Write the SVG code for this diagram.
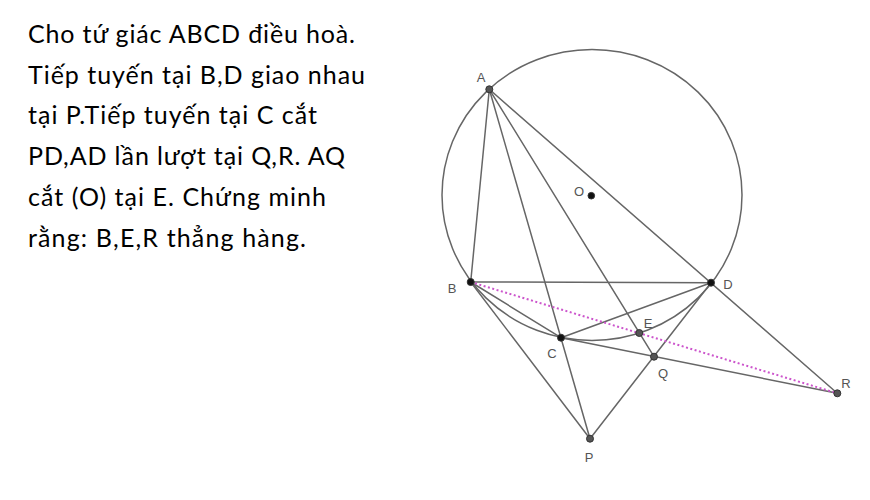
<svg xmlns="http://www.w3.org/2000/svg" width="870" height="500" viewBox="0 0 870 500">
<style>
.t{font-family:Lato,"Open Sans","Liberation Sans",sans-serif;font-size:25px;fill:#000}
.ln{stroke:#666;stroke-width:1.5;fill:none;stroke-linecap:round}
.dot{stroke:#cc55cc;stroke-width:2;stroke-dasharray:2 2.5;fill:none}
.lb{font-family:"Liberation Sans",Arial,sans-serif;font-size:13px;fill:#555;text-anchor:middle}
.pk{fill:#111;stroke:#333;stroke-width:1}
.pg{fill:#555;stroke:#333;stroke-width:1}
</style>
<rect width="870" height="500" fill="#fff"/>
<g id="problem-text">
<text class="t" x="28" y="43" textLength="327" lengthAdjust="spacing">Cho tứ giác ABCD điều hoà.</text>
<text class="t" x="28" y="84" textLength="337" lengthAdjust="spacing">Tiếp tuyến tại B,D giao nhau</text>
<text class="t" x="28" y="124" textLength="289" lengthAdjust="spacing">tại P.Tiếp tuyến tại C cắt</text>
<text class="t" x="28" y="165" textLength="317" lengthAdjust="spacing">PD,AD lần lượt tại Q,R. AQ</text>
<text class="t" x="28" y="206" textLength="298" lengthAdjust="spacing">cắt (O) tại E. Chứng minh</text>
<text class="t" x="28" y="247" textLength="278" lengthAdjust="spacing">rằng: B,E,R thẳng hàng.</text>
</g>
<g id="circle-O">
<ellipse class="ln" cx="592" cy="195" rx="150" ry="145.5"/>
</g>
<g id="connectors">
<line class="ln" x1="489.3" y1="89.3" x2="470.7" y2="282"/>
<line class="ln" x1="489.3" y1="89.3" x2="590" y2="438.7"/>
<line class="ln" x1="489.3" y1="89.3" x2="654" y2="356.7"/>
<line class="ln" x1="489.3" y1="89.3" x2="837.3" y2="393.3"/>
<line class="ln" x1="470.7" y1="282" x2="711" y2="282.7"/>
<line class="ln" x1="470.7" y1="282" x2="561" y2="337.7"/>
<line class="ln" x1="561" y1="337.7" x2="711" y2="282.7"/>
<line class="ln" x1="470.7" y1="282" x2="590" y2="438.7"/>
<line class="ln" x1="711" y1="282.7" x2="590" y2="438.7"/>
<line class="ln" x1="561" y1="337.7" x2="837.3" y2="393.3"/>
<line class="dot" x1="470.7" y1="282" x2="837.3" y2="393.3"/>
</g>
<g id="node-A"><circle class="pg" cx="489.3" cy="89.3" r="3.5"/><text class="lb" x="481" y="82">A</text></g>
<g id="node-O"><circle class="pk" cx="591.3" cy="195.7" r="3.3"/><text class="lb" x="579" y="196">O</text></g>
<g id="node-B"><circle class="pk" cx="470.7" cy="282" r="3.5"/><text class="lb" x="452" y="293">B</text></g>
<g id="node-D"><circle class="pk" cx="711" cy="282.7" r="3.5"/><text class="lb" x="728" y="289">D</text></g>
<g id="node-C"><circle class="pk" cx="561" cy="337.7" r="3.5"/><text class="lb" x="552" y="358">C</text></g>
<g id="node-E"><circle class="pg" cx="639.3" cy="333" r="3.5"/><text class="lb" x="648" y="328">E</text></g>
<g id="node-Q"><circle class="pg" cx="654" cy="356.7" r="3.5"/><text class="lb" x="663" y="378">Q</text></g>
<g id="node-R"><circle class="pg" cx="837.3" cy="393.3" r="3.5"/><text class="lb" x="846" y="388">R</text></g>
<g id="node-P"><circle class="pg" cx="590" cy="438.7" r="3.5"/><text class="lb" x="589" y="462">P</text></g>
</svg>
